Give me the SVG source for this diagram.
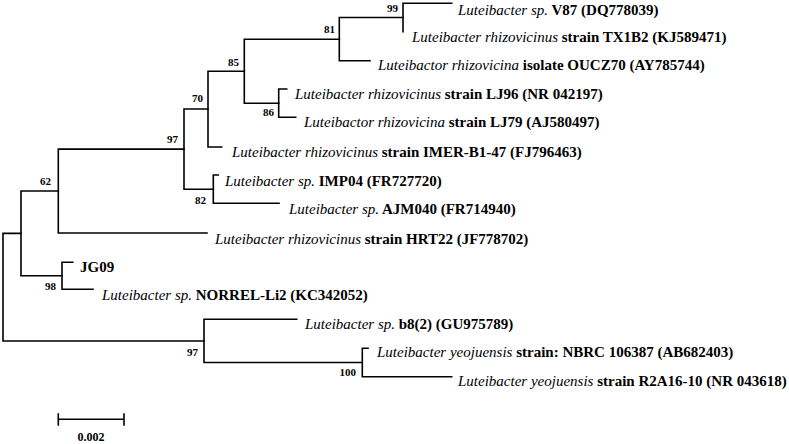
<svg xmlns="http://www.w3.org/2000/svg" width="789" height="444" viewBox="0 0 789 444">
<style>
.br{fill:none;stroke:#000;stroke-width:1.6;stroke-linecap:square}
.lb{font-family:"Liberation Serif","Times New Roman",serif;font-size:15px;font-weight:bold;fill:#000}
.lb .i{font-style:italic;font-weight:normal}
.bs{font-family:"Liberation Serif","Times New Roman",serif;font-size:11px;font-weight:bold;fill:#000;text-anchor:end}
</style>
<rect width="789" height="444" fill="#fff"/>
<g id="connectors">
<path class="br" d="M3,233.4V341M3,233.4H21M3,341H204"/>
<path class="br" d="M21,191V275.8M21,191H58.3M21,275.8H62"/>
<path class="br" d="M58.3,149.1V233M58.3,149.1H184M58.3,233H207"/>
<path class="br" d="M184,109V189.2M184,109H208M184,189.2H213.3"/>
<path class="br" d="M208,71.2V147M208,71.2H244.3M208,147H221.7"/>
<path class="br" d="M244.3,39.2V103.2M244.3,39.2H339.3M244.3,103.2H278.7"/>
<path class="br" d="M339.3,17.5V60.8M339.3,17.5H403M339.3,60.8H370"/>
<path class="br" d="M403,3.3V31.7M403,3.3H451.7"/>
<path class="br" d="M278.7,89V117.3M278.7,89H286.7M278.7,117.3H295.7"/>
<path class="br" d="M213.3,175V203.3M213.3,175H218.3M213.3,203.3H279"/>
<path class="br" d="M62,262.3V289.3M62,262.3H72.7M62,289.3H93"/>
<path class="br" d="M204,319.3V362.5M204,319.3H296.7M204,362.5H362.3"/>
<path class="br" d="M362.3,348.3V376.7M362.3,348.3H368M362.3,376.7H451.7"/>
</g>
<g id="bootstrap">
<text class="bs" x="398" y="12">99</text>
<text class="bs" x="335" y="33">81</text>
<text class="bs" x="239" y="66">85</text>
<text class="bs" x="203" y="102">70</text>
<text class="bs" x="178" y="143">97</text>
<text class="bs" x="274" y="116">86</text>
<text class="bs" x="51" y="185">62</text>
<text class="bs" x="206" y="204">82</text>
<text class="bs" x="56" y="290">98</text>
<text class="bs" x="198" y="356">97</text>
<text class="bs" x="356" y="376">100</text>
</g>
<g id="n-V87"><text class="lb" x="458" y="14.5"><tspan class="i">Luteibacter sp.</tspan> V87 (DQ778039)</text></g>
<g id="n-TX1B2"><text class="lb" x="412" y="42"><tspan class="i">Luteibacter rhizovicinus</tspan> strain TX1B2 (KJ589471)</text></g>
<g id="n-OUCZ70"><text class="lb" x="378" y="70"><tspan class="i">Luteibactor rhizovicina</tspan> isolate OUCZ70 (AY785744)</text></g>
<g id="n-LJ96"><text class="lb" x="295" y="99"><tspan class="i">Luteibacter rhizovicinus</tspan> strain LJ96 (NR 042197)</text></g>
<g id="n-LJ79"><text class="lb" x="304" y="127"><tspan class="i">Luteibactor rhizovicina</tspan> strain LJ79 (AJ580497)</text></g>
<g id="n-IMER"><text class="lb" x="232" y="157"><tspan class="i">Luteibacter rhizovicinus</tspan> strain IMER-B1-47 (FJ796463)</text></g>
<g id="n-IMP04"><text class="lb" x="225" y="186"><tspan class="i">Luteibacter sp.</tspan> IMP04 (FR727720)</text></g>
<g id="n-AJM040"><text class="lb" x="289" y="214"><tspan class="i">Luteibacter sp.</tspan> AJM040 (FR714940)</text></g>
<g id="n-HRT22"><text class="lb" x="215" y="244"><tspan class="i">Luteibacter rhizovicinus</tspan> strain HRT22 (JF778702)</text></g>
<g id="n-JG09"><text class="lb" x="80" y="272">JG09</text></g>
<g id="n-NORREL"><text class="lb" x="102" y="300"><tspan class="i">Luteibacter sp.</tspan> NORREL-Li2 (KC342052)</text></g>
<g id="n-b8"><text class="lb" x="305" y="329"><tspan class="i">Luteibacter sp.</tspan> b8(2) (GU975789)</text></g>
<g id="n-NBRC"><text class="lb" x="377" y="357"><tspan class="i">Luteibacter yeojuensis</tspan> strain: NBRC 106387 (AB682403)</text></g>
<g id="n-R2A16"><text class="lb" x="458" y="386"><tspan class="i">Luteibacter yeojuensis</tspan> strain R2A16-10 (NR 043618)</text></g>
<g id="scale">
<path class="br" d="M58.3,419.3H124M58.3,414V425M124,414V425"/>
<text class="bs" x="91" y="441" style="text-anchor:middle;font-size:12px">0.002</text>
</g>
</svg>
